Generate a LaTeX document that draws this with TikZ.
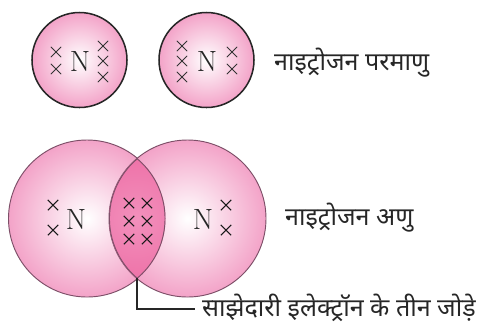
\documentclass[tikz,border=0pt]{standalone}
\usepackage{fontspec}
\usetikzlibrary{shapes.misc}
\newfontfamily\hindi[Script=Devanagari]{Noto Sans}
\definecolor{atompink}{HTML}{F3A3C8}
\definecolor{lenspink}{HTML}{EE72A8}
\definecolor{lenslight}{HTML}{F290BC}
\definecolor{molrim}{HTML}{7D4F68}
\tikzset{
  atom/.style={circle, draw=black!85, line width=1.3pt, minimum size=2.85cm, inner sep=0pt,
    inner color=white, outer color=atompink},
  bigatom/.style={circle, draw=molrim, line width=0.8pt, minimum size=4.71cm, inner sep=0pt,
    inner color=white, outer color=atompink},
  elec/.style={cross out, draw=black!80, line width=0.65pt, minimum size=0.31cm, inner sep=0pt, outer sep=0pt},
  bigelec/.style={elec, draw=black!90, line width=0.9pt},
  sym/.style={font=\fontsize{25}{25}\selectfont, text=black!85},
  lbl/.style={font=\hindi\fontsize{21.4}{24}\selectfont, text=black!85, anchor=west, inner sep=0pt}
}
\begin{document}
\begin{tikzpicture}[x=0.03cm, y=-0.03cm]
  \useasboundingbox (0,0) rectangle (484,323);

  % Atoms
  \node[atom] (atomA) at (79.5,60) {};
  \node[atom] (atomB) at (206.5,60) {};
  \node[sym] (symA) at (80,61) {N};
  \node[sym] (symB) at (207,61) {N};
  \foreach \i/\x/\y in {1/56/52, 2/56/69, 3/103/46, 4/103/61, 5/103/77}
    \node[elec] (eA\i) at (\x,\y) {};
  \foreach \i/\x/\y in {1/182/46, 2/182/61, 3/182/77, 4/232/52, 5/232/69}
    \node[elec] (eB\i) at (\x,\y) {};

  % Molecule
  \node[bigatom] (molL) at (87,218.5) {};
  \node[bigatom] (molR) at (187.5,218.5) {};
  \begin{scope}
    \clip (87,218.5) circle (78.5);
    \clip (187.5,218.5) circle (78.5);
    \shade[inner color=lenslight, outer color=lenspink] (137,218.5) circle (62);
    \draw[molrim, line width=1.6pt] (187.5,218.5) circle (78.5);
    \draw[molrim, line width=1.6pt] (87,218.5) circle (78.5);
  \end{scope}
  \node[sym] (symL) at (76,219) {N};
  \node[sym] (symR) at (203,219) {N};
  \foreach \i/\x/\y in {1/53/205, 2/53/230, 3/226/205, 4/226/230}
    \node[bigelec] (eM\i) at (\x,\y) {};
  \foreach \i/\x/\y in {1/129/203, 2/147/203, 3/129/221, 4/147/221, 5/129/239, 6/147/239}
    \node[bigelec] (eS\i) at (\x,\y) {};

  % Labels
  \node[lbl] (lblAtom) at (274,63) {नाइट्रोजन परमाणु};
  \node[lbl] (lblMol) at (285,218) {नाइट्रोजन अणु};
  \node[lbl] (lblPair) at (202,308) {साझेदारी इलेक्ट्रॉन के तीन जोड़े};

  \coordinate (lensEnd) at (137,278);
  \coordinate (pairEnd) at (195,309);
  \draw[black!85, line width=0.9pt] (lensEnd) |- (pairEnd);
\end{tikzpicture}
\end{document}
